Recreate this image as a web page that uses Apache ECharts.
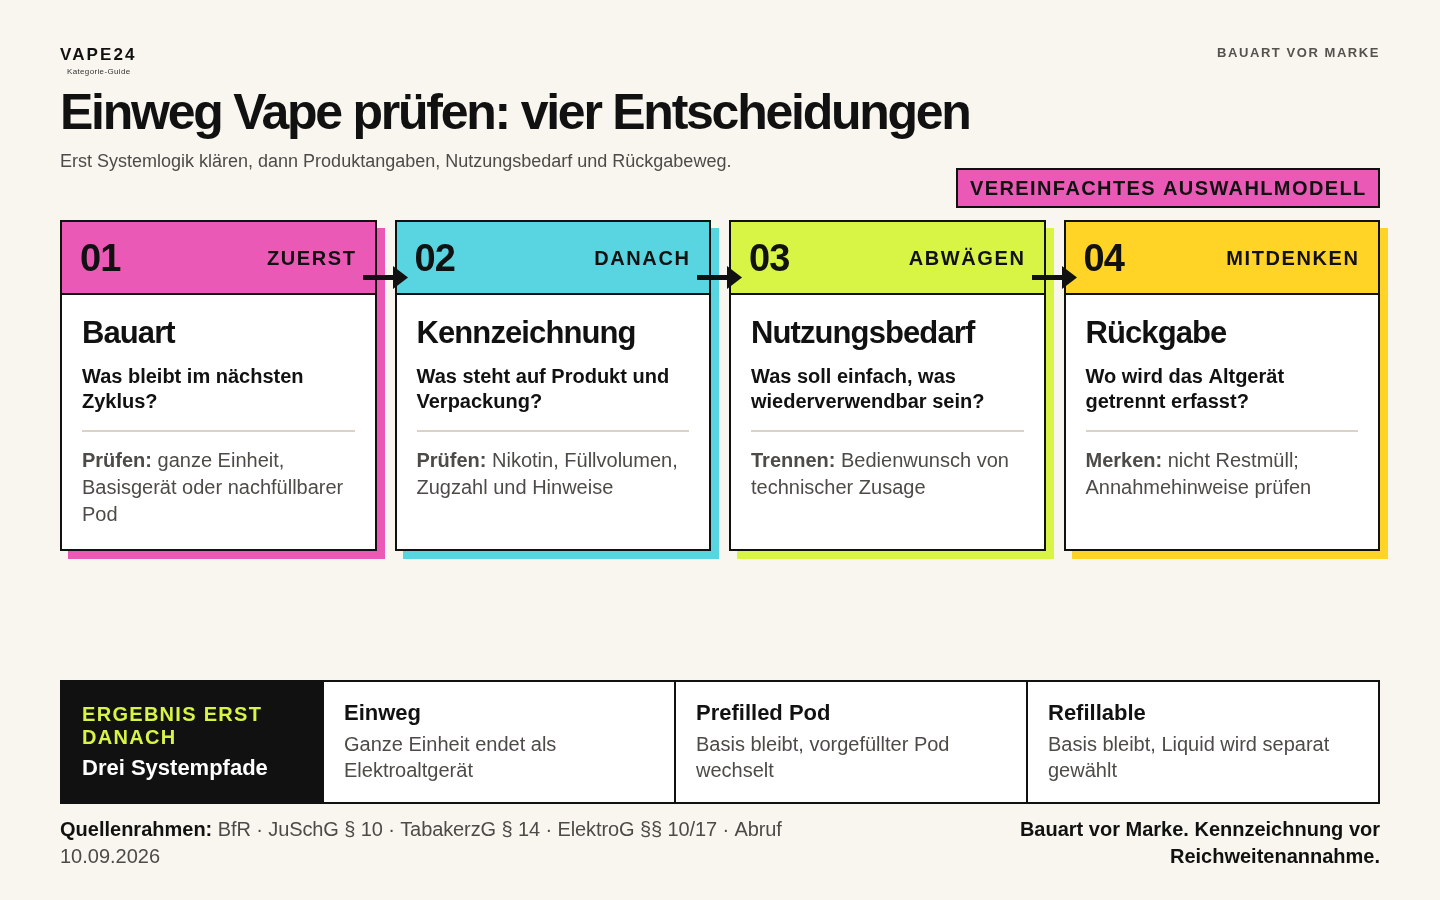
<!DOCTYPE html>
<html>
<head>
<meta charset="utf-8">
<title>Einweg Vape prüfen</title>
<style>
  html, body { margin: 0; padding: 0; background: #f9f6ef; }
  #main { width: 1440px; height: 900px; }
</style>
<script src="https://cdn.jsdelivr.net/npm/echarts@6/dist/echarts.min.js"></script>
</head>
<body>
<div id="main"></div>
<script>
const cardNumbers = ['01', '02', '03', '04']
const cardTags = ['ZUERST', 'DANACH', 'ABWÄGEN', 'MITDENKEN']
const cardTitles = ['Bauart', 'Kennzeichnung', 'Nutzungsbedarf', 'Rückgabe']
const cardQuestions = [
  ['Was bleibt im nächsten', 'Zyklus?'],
  ['Was steht auf Produkt und', 'Verpackung?'],
  ['Was soll einfach, was', 'wiederverwendbar sein?'],
  ['Wo wird das Altgerät', 'getrennt erfasst?']
]
const cardLabels = ['Prüfen:', 'Prüfen:', 'Trennen:', 'Merken:']
const cardNotes = [
  [' ganze Einheit,', 'Basisgerät oder nachfüllbarer', 'Pod'],
  [' Nikotin, Füllvolumen,', 'Zugzahl und Hinweise'],
  [' Bedienwunsch von', 'technischer Zusage'],
  [' nicht Restmüll;', 'Annahmehinweise prüfen']
]
const cardColors = ['#eb59b6', '#58d5e0', '#d8f445', '#ffd426']
const cardLeft = [60, 395, 729, 1064]
const cardWidth = [317, 316, 317, 316]
const cardTextLeft = [82, 416.5, 751, 1085.5]

const pathTitles = ['Einweg', 'Prefilled Pod', 'Refillable']
const pathNotes = [
  ['Ganze Einheit endet als', 'Elektroaltgerät'],
  ['Basis bleibt, vorgefüllter Pod', 'wechselt'],
  ['Basis bleibt, Liquid wird separat', 'gewählt']
]
const pathLeft = [324, 676, 1028]

const FONT = '"Liberation Sans", Arial, Helvetica, sans-serif'
const INK = '#111111'
const MUTED = '#4d4b47'

// canvas letter spacing per string, zrender has no option for it
const spacing = {
  'VAPE24': 2.1,
  'Kategorie-Guide': 0.35,
  'BAUART VOR MARKE': 1.56,
  'Einweg Vape prüfen: vier Entscheidungen': -2.25,
  'VEREINFACHTES AUSWAHLMODELL': 1.4,
  'ERGEBNIS ERST': 1.3,
  'DANACH ': 1.3,
  ' BfR · JuSchG § 10 · TabakerzG § 14 · ElektroG §§ 10/17 · Abruf': -0.1
}
cardNumbers.forEach(n => { spacing[n] = -0.8 })
cardTags.forEach(t => { spacing[t] = 1.6 })
cardTitles.forEach(t => { spacing[t] = -0.9 })

const rawFillText = CanvasRenderingContext2D.prototype.fillText
CanvasRenderingContext2D.prototype.fillText = function (str, x, y, w) {
  this.letterSpacing = (spacing[str] || 0) + 'px'
  if (w === undefined) rawFillText.call(this, str, x, y)
  else rawFillText.call(this, str, x, y, w)
  this.letterSpacing = '0px'
}

const els = []

function rect (x, y, w, h, fill, stroke) {
  els.push({
    type: 'rect',
    shape: stroke ? { x: x + 1, y: y + 1, width: w - 2, height: h - 2 } : { x, y, width: w, height: h },
    style: { fill, stroke: stroke || null, lineWidth: stroke ? 2 : 0 }
  })
}

function label (x, y, text, size, color, bold, align) {
  els.push({
    type: 'text',
    x, y,
    style: {
      text, fill: color, fontFamily: FONT, fontSize: size,
      fontWeight: bold ? 'bold' : 'normal',
      align: align || 'left', verticalAlign: 'middle'
    }
  })
}

// header
label(60, 55.5, 'VAPE24', 17, INK, true)
label(67, 71.5, 'Kategorie-Guide', 8, '#333333', false)
label(1380, 53.5, 'BAUART VOR MARKE', 13, '#55524d', true, 'right')
label(60, 115, 'Einweg Vape prüfen: vier Entscheidungen', 50, INK, true)
label(60, 162, 'Erst Systemlogik klären, dann Produktangaben, Nutzungsbedarf und Rückgabeweg.', 18, MUTED, false)

rect(956, 168, 424, 40, cardColors[0], INK)
label(970, 189.5, 'VEREINFACHTES AUSWAHLMODELL', 20, INK, true)

// cards
cardNumbers.forEach((num, i) => {
  const x = cardLeft[i]
  const w = cardWidth[i]
  const tx = cardTextLeft[i]
  rect(x + 8, 228, w, 331, cardColors[i])
  rect(x, 220, w, 331, '#ffffff', INK)
  rect(x, 220, w, 75, cardColors[i], INK)
  label(tx - 2, 260.5, num, 38, INK, true)
  label(x + w - 20.5, 259.5, cardTags[i], 20, INK, true, 'right')
  label(tx, 334, cardTitles[i], 31, INK, true)
  cardQuestions[i].forEach((line, k) => label(tx, 377 + k * 25.5, line, 20, INK, true))
  rect(x + 22, 430, w - 44, 2, '#d9d3c6')
  cardNotes[i].forEach((line, k) => {
    const lineY = 461.5 + k * 27
    if (k === 0) {
      els.push({
        type: 'text',
        x: tx,
        y: lineY,
        style: {
          text: '{b|' + cardLabels[i] + '}{n|' + line + '}',
          fontFamily: FONT, fontSize: 20, fill: MUTED, verticalAlign: 'middle',
          rich: {
            b: { fontFamily: FONT, fontSize: 20, fontWeight: 'bold', fill: MUTED },
            n: { fontFamily: FONT, fontSize: 20, fill: MUTED }
          }
        }
      })
    } else {
      label(tx, lineY, line, 20, MUTED, false)
    }
  })
})

// arrows between the cards
for (let i = 0; i < 3; i++) {
  const x = cardLeft[i] + cardWidth[i] - 14
  rect(x, 275, 32, 5, INK)
  els.push({
    type: 'polygon',
    shape: { points: [[x + 30, 266], [x + 45, 277.5], [x + 30, 289]] },
    style: { fill: INK }
  })
}

// system paths
rect(60, 680, 1320, 124, '#ffffff', INK)
rect(60, 680, 264, 124, INK)
label(82, 715.5, 'ERGEBNIS ERST', 20, cardColors[2], true)
label(82, 738.5, 'DANACH ', 20, cardColors[2], true)
label(82, 769, 'Drei Systempfade', 22, '#ffffff', true)
pathTitles.forEach((title, i) => {
  const x = pathLeft[i]
  if (i > 0) rect(x - 2, 680, 2, 124, INK)
  label(x + 20, 713.5, title, 22, INK, true)
  pathNotes[i].forEach((line, k) => label(x + 20, 745.5 + k * 26, line, 20, MUTED, false))
})

// footer
els.push({
  type: 'text',
  x: 60,
  y: 830.5,
  style: {
    text: '{b|Quellenrahmen:}{n| BfR · JuSchG § 10 · TabakerzG § 14 · ElektroG §§ 10/17 · Abruf}',
    fontFamily: FONT, fontSize: 20, fill: MUTED, verticalAlign: 'middle',
    rich: {
      b: { fontFamily: FONT, fontSize: 20, fontWeight: 'bold', fill: INK },
      n: { fontFamily: FONT, fontSize: 20, fill: MUTED }
    }
  }
})
label(60, 857.5, '10.09.2026', 20, MUTED, false)
label(1380, 830.5, 'Bauart vor Marke. Kennzeichnung vor', 20, INK, true, 'right')
label(1380, 857.5, 'Reichweitenannahme.', 20, INK, true, 'right')

const chart = echarts.init(document.getElementById('main'))
chart.setOption({
  backgroundColor: '#f9f6ef',
  animation: false,
  graphic: { elements: els }
})
</script>
</body>
</html>
